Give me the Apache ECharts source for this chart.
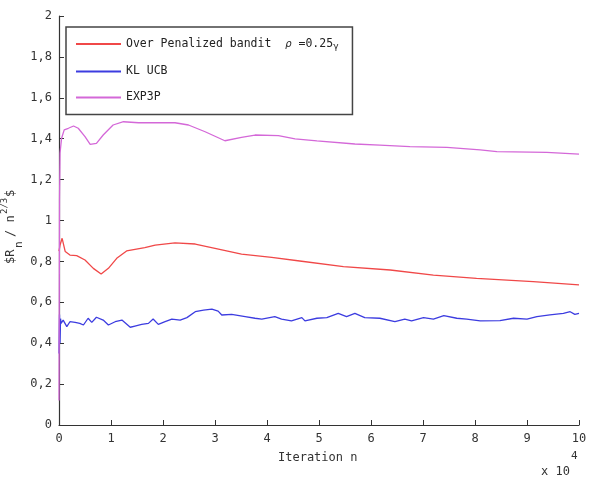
<!DOCTYPE html>
<html>
<head>
<meta charset="utf-8">
<script src="https://cdn.jsdelivr.net/npm/echarts@6/dist/echarts.min.js"></script>
<style>
  html, body { margin: 0; padding: 0; background: #fff; }
  #main { width: 591px; height: 478px; }
</style>
</head>
<body>
<div id="main"></div>
<script>
// x in units of 10^4 iterations
var seriesNames = ['Over Penalized bandit ρ =0.25γ', 'KL UCB', 'EXP3P'];
var xTicks = [0, 1, 2, 3, 4, 5, 6, 7, 8, 9, 10];

var opbX = [0, 0.02, 0.06, 0.12, 0.21, 0.34, 0.5, 0.66, 0.81, 0.95, 1.11, 1.3, 1.65, 1.85, 2.23, 2.62, 3.0, 3.51, 4.09, 4.63, 5.47, 6.37, 7.2, 8.03, 9.12, 10];
var opbY = [0.85, 0.88, 0.913, 0.848, 0.831, 0.828, 0.807, 0.766, 0.738, 0.766, 0.815, 0.851, 0.867, 0.88, 0.891, 0.885, 0.864, 0.836, 0.82, 0.802, 0.774, 0.758, 0.733, 0.717, 0.701, 0.685];

var klX = [0, 0.01, 0.02, 0.03, 0.04, 0.08, 0.15, 0.21, 0.31, 0.4, 0.47, 0.56, 0.63, 0.72, 0.85, 0.95, 1.08, 1.21, 1.37, 1.46, 1.59, 1.72, 1.81, 1.91, 2.04, 2.17, 2.33, 2.46, 2.62, 2.78, 2.94, 3.06, 3.13, 3.32, 3.58, 3.77, 3.9, 4.15, 4.28, 4.47, 4.67, 4.73, 4.96, 5.15, 5.37, 5.53, 5.69, 5.88, 6.17, 6.46, 6.65, 6.78, 7.01, 7.2, 7.4, 7.65, 7.84, 8.1, 8.48, 8.74, 9.0, 9.19, 9.44, 9.7, 9.83, 9.92, 10];
var klY = [0.35, 0.54, 0.40, 0.52, 0.497, 0.513, 0.481, 0.505, 0.502, 0.497, 0.489, 0.522, 0.502, 0.527, 0.513, 0.489, 0.505, 0.513, 0.478, 0.484, 0.492, 0.497, 0.518, 0.492, 0.505, 0.518, 0.513, 0.525, 0.554, 0.562, 0.567, 0.557, 0.538, 0.541, 0.53, 0.522, 0.518, 0.53, 0.518, 0.509, 0.525, 0.509, 0.522, 0.525, 0.546, 0.53, 0.546, 0.525, 0.522, 0.505, 0.518, 0.509, 0.525, 0.518, 0.535, 0.522, 0.518, 0.509, 0.51, 0.522, 0.518, 0.53, 0.538, 0.546, 0.554, 0.541, 0.546];

var expX = [0, 0.01, 0.02, 0.05, 0.1, 0.18, 0.28, 0.37, 0.5, 0.6, 0.72, 0.85, 1.04, 1.24, 1.53, 2.23, 2.49, 2.81, 3.19, 3.51, 3.77, 4.22, 4.54, 4.96, 5.69, 6.17, 6.75, 7.46, 8.1, 8.42, 9.38, 10];
var expY = [0.12, 1.1, 1.33, 1.402, 1.443, 1.451, 1.462, 1.451, 1.41, 1.372, 1.377, 1.418, 1.467, 1.483, 1.478, 1.478, 1.467, 1.434, 1.39, 1.407, 1.418, 1.415, 1.399, 1.389, 1.374, 1.369, 1.361, 1.358, 1.345, 1.337, 1.333, 1.325];

var colors = ['#f04848', '#3c3ce0', '#d468d8'];

function zip(xs, ys) {
  return xs.map(function (x, i) { return [x, ys[i]]; });
}

var font = 'DejaVu Sans Mono';
var chart = echarts.init(document.getElementById('main'));

var option = {
  animation: false,
  backgroundColor: '#fff',
  grid: { left: 59, right: 12, top: 16, bottom: 53, containLabel: false },
  legend: {
    orient: 'vertical',
    left: 66,
    top: 27,
    padding: [11, 14, 11, 9],
    itemWidth: 45,
    itemHeight: 14,
    itemGap: 14,
    borderColor: '#444',
    borderWidth: 1.5,
    backgroundColor: '#fff',
    itemStyle: { opacity: 0, borderWidth: 0 },
    data: seriesNames,
    formatter: function (name) {
      if (name === seriesNames[0]) return '{t|Over Penalized bandit  }{g|ρ}{t| =0.25}{s|γ}';
      return '{t|' + name + '}';
    },
    textStyle: {
      fontFamily: font,
      fontSize: 11.5,
      color: '#222',
      rich: {
        t: { fontFamily: font, fontSize: 11.5, color: '#222' },
        g: { fontFamily: 'DejaVu Sans', fontSize: 10, fontStyle: 'italic', color: '#222' },
        s: { fontFamily: 'DejaVu Sans', fontSize: 9, color: '#222', padding: [6, 0, 0, 0] }
      }
    }
  },
  xAxis: {
    type: 'value',
    min: 0,
    max: 10,
    interval: 1,
    axisLine: { show: true, lineStyle: { color: '#333', width: 1.2 } },
    axisTick: { show: true, inside: true, length: 5, lineStyle: { color: '#333' } },
    axisLabel: { fontFamily: font, fontSize: 12, color: '#333', margin: 8 },
    splitLine: { show: false }
  },
  yAxis: {
    type: 'value',
    min: 0,
    max: 2,
    interval: 0.2,
    axisLine: { show: true, lineStyle: { color: '#333', width: 1.2 } },
    axisTick: { show: true, inside: true, length: 5, lineStyle: { color: '#333' } },
    axisLabel: {
      fontFamily: font, fontSize: 12, color: '#333', margin: 7,
      formatter: function (v) { return String(Math.round(v * 10) / 10).replace('.', ','); }
    },
    splitLine: { show: false }
  },
  graphic: [
    {
      type: 'text', left: 278, top: 452,
      style: { text: 'Iteration n', font: '12px "' + font + '"', fill: '#333' }
    },
    {
      type: 'text', left: 541, top: 466,
      style: { text: 'x 10', font: '12px "' + font + '"', fill: '#333' }
    },
    {
      type: 'text', left: 571, top: 451,
      style: { text: '4', font: '11px "' + font + '"', fill: '#333' }
    },
    {
      type: 'group', x: 11, y: 264, rotation: Math.PI / 2,
      children: [
        { type: 'text', x: 0, y: 0, style: { text: '$R', font: '12px "' + font + '"', fill: '#333', verticalAlign: 'middle' } },
        { type: 'text', x: 16, y: 8, style: { text: 'n', font: '11px "' + font + '"', fill: '#333', verticalAlign: 'middle' } },
        { type: 'text', x: 27, y: 0, style: { text: '/ n', font: '12px "' + font + '"', fill: '#333', verticalAlign: 'middle' } },
        { type: 'text', x: 50, y: -6, style: { text: '2/3', font: '9px "' + font + '"', fill: '#333', verticalAlign: 'middle' } },
        { type: 'text', x: 67, y: 0, style: { text: '$', font: '12px "' + font + '"', fill: '#333', verticalAlign: 'middle' } }
      ]
    }
  ],
  series: [
    { name: seriesNames[0], type: 'line', symbol: 'none', data: zip(opbX, opbY), lineStyle: { color: colors[0], width: 1.3 }, itemStyle: { color: colors[0] } },
    { name: seriesNames[1], type: 'line', symbol: 'none', data: zip(klX, klY), lineStyle: { color: colors[1], width: 1.3 }, itemStyle: { color: colors[1] } },
    { name: seriesNames[2], type: 'line', symbol: 'none', data: zip(expX, expY), lineStyle: { color: colors[2], width: 1.3 }, itemStyle: { color: colors[2] } }
  ]
};

chart.setOption(option);
</script>
</body>
</html>
